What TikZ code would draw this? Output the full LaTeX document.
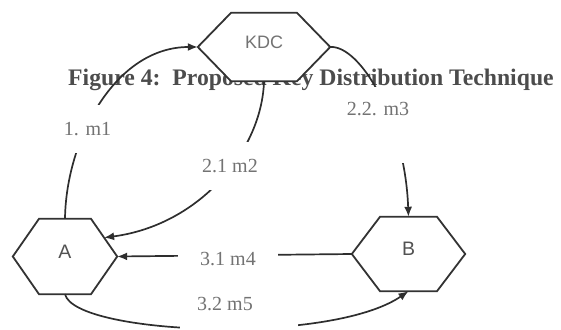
\documentclass[tikz,border=0pt]{standalone}
\usepackage{fontspec}
\setmainfont{Liberation Serif}
\newfontfamily\arialfont{Liberation Sans}
\usetikzlibrary{arrows.meta,calc}
\pgfdeclarelayer{titlelayer}
\pgfdeclarelayer{hexlayer}
\pgfsetlayers{titlelayer,hexlayer,main}
\tikzset{
  hexbox/.style={rectangle, inner sep=0pt, text depth=10pt, font=\arialfont\fontsize{19.5}{20}\selectfont, text=black!68},
  hexline/.style={draw=black!80, line width=1.8pt, fill=white, line join=miter},
  conn/.style={draw=black!82, line width=1.7pt, -{Latex[length=10pt,width=8pt]}},
  msg/.style={font=\fontsize{20}{20}\selectfont, text=black!55, fill=white, inner sep=0pt},
}
\newcommand\hexoutline[2]{%
  \draw[hexline] (#1.west) -- ([xshift=-#2]#1.north) -- ([xshift=#2]#1.north) -- (#1.east) -- ([xshift=#2]#1.south) -- ([xshift=-#2]#1.south) -- cycle;}
\begin{document}
\begin{tikzpicture}[x=1pt,y=-1pt]
\useasboundingbox (0,0) rectangle (561,329);
\begin{pgfonlayer}{titlelayer}
\node[anchor=base west, inner sep=0pt, font=\bfseries\fontsize{23.7}{24}\selectfont, text=black!70] (title) at (68,85) {Figure 4:\ \ Proposed Key Distribution Technique};
\end{pgfonlayer}
\node[hexbox, minimum width=132pt, minimum height=68pt, text=black!55, font=\arialfont\fontsize{18}{18}\selectfont] (kdc) at (264,47) {KDC};
\node[hexbox, minimum width=104pt, minimum height=75pt] (a) at (65,256.5) {A};
\node[hexbox, minimum width=113pt, minimum height=74pt] (b) at (408.5,254) {B};
\begin{pgfonlayer}{hexlayer}
\hexoutline{kdc}{33pt}
\hexoutline{a}{26pt}
\hexoutline{b}{28.5pt}
\end{pgfonlayer}
\draw[conn] (a.north) .. controls (66,140) and (115,47) .. (kdc.west);
\draw[conn] (kdc.south) .. controls (262,150) and (200,225) .. ($(a.east)!0.5!([xshift=26pt]a.north)$);
\draw[conn] (kdc.east) .. controls (360,45) and (405,120) .. (b.north);
\draw[conn] (b.west) -- (a.east);
\draw[conn] (a.south) .. controls (75,335) and (330,345) .. (b.south);
\node[msg, minimum height=48pt] (l1) at (87.5,129) {1. m1};
\node[msg, minimum height=48pt] (l21) at (230,166) {2.1 m2};
\node[msg, anchor=base, text height=28pt, text depth=48pt] (l22) at (378,115) {2.2. m3};
\node[msg, minimum width=100pt] (l31) at (228,259) {3.1 m4};
\node[msg, anchor=base, text depth=23pt, minimum width=118pt] (l32) at (239,310) {3.2 m5\hspace*{28pt}};
\end{tikzpicture}
\end{document}
